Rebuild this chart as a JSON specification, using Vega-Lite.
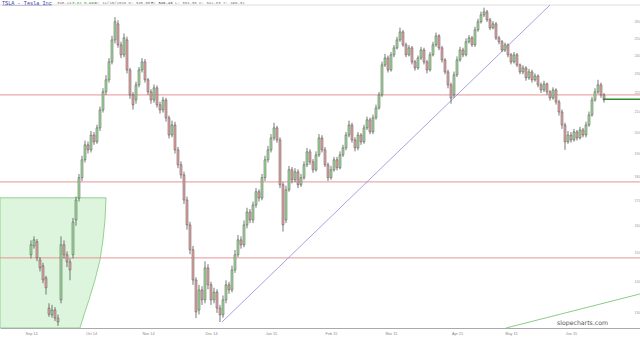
{
  "$schema": "https://vega.github.io/schema/vega-lite/v6.json",
  "width": 640,
  "height": 323,
  "autosize": "none",
  "padding": {"left": 0, "top": 5, "right": 0, "bottom": 12},
  "background": "white",
  "config": {"view": {"stroke": null}, "scale": {"continuousPadding": 0}, "axis": {"grid": false, "labelFont": "Liberation Sans"}},
  "datasets": {
    "candles": [
      {"i":0,"o":149.3,"h":154.5,"l":148.0,"c":152.9},
      {"i":1,"o":152.5,"h":156.0,"l":151.5,"c":154.7},
      {"i":2,"o":154.0,"h":155.0,"l":147.0,"c":148.2},
      {"i":3,"o":147.5,"h":148.5,"l":143.5,"c":144.7},
      {"i":4,"o":145.4,"h":146.5,"l":139.5,"c":140.6},
      {"i":5,"o":141.3,"h":142.0,"l":135.8,"c":138.0},
      {"i":6,"o":131.5,"h":133.0,"l":128.8,"c":129.6},
      {"i":7,"o":129.4,"h":132.5,"l":128.5,"c":130.9},
      {"i":8,"o":130.9,"h":131.8,"l":127.5,"c":128.4},
      {"i":9,"o":128.4,"h":129.5,"l":126.0,"c":127.2},
      {"i":10,"o":134.1,"h":156.0,"l":133.0,"c":152.9},
      {"i":11,"o":152.9,"h":154.5,"l":148.0,"c":149.3},
      {"i":12,"o":149.3,"h":150.5,"l":145.0,"c":146.8},
      {"i":13,"o":146.8,"h":148.0,"l":140.5,"c":144.0},
      {"i":14,"o":149.3,"h":163.0,"l":148.0,"c":161.4},
      {"i":15,"o":162.2,"h":171.5,"l":160.0,"c":170.1},
      {"i":16,"o":170.9,"h":181.0,"l":169.5,"c":179.4},
      {"i":17,"o":179.4,"h":189.0,"l":178.0,"c":187.2},
      {"i":18,"o":187.2,"h":196.0,"l":186.0,"c":194.0},
      {"i":19,"o":194.0,"h":195.5,"l":190.0,"c":191.7},
      {"i":20,"o":191.7,"h":200.5,"l":190.5,"c":198.6},
      {"i":21,"o":198.6,"h":200.0,"l":194.0,"c":195.4},
      {"i":22,"o":195.4,"h":203.5,"l":194.5,"c":202.0},
      {"i":23,"o":202.0,"h":212.5,"l":200.5,"c":210.8},
      {"i":24,"o":210.8,"h":222.0,"l":209.5,"c":220.1},
      {"i":25,"o":220.1,"h":229.0,"l":218.5,"c":226.5},
      {"i":26,"o":226.5,"h":238.5,"l":225.0,"c":236.4},
      {"i":27,"o":236.4,"h":251.5,"l":235.0,"c":249.1},
      {"i":28,"o":249.1,"h":263.0,"l":247.0,"c":260.1},
      {"i":29,"o":258.8,"h":261.0,"l":244.5,"c":246.2},
      {"i":30,"o":246.2,"h":248.0,"l":238.5,"c":240.4},
      {"i":31,"o":240.4,"h":253.0,"l":239.0,"c":250.3},
      {"i":32,"o":249.1,"h":251.0,"l":230.0,"c":231.9},
      {"i":33,"o":231.9,"h":233.0,"l":216.5,"c":218.5},
      {"i":34,"o":218.5,"h":220.0,"l":211.0,"c":213.4},
      {"i":35,"o":215.9,"h":225.5,"l":214.0,"c":223.8},
      {"i":36,"o":223.8,"h":233.5,"l":222.5,"c":231.9},
      {"i":37,"o":231.9,"h":238.5,"l":230.5,"c":236.4},
      {"i":38,"o":236.4,"h":238.0,"l":225.0,"c":226.5},
      {"i":39,"o":226.5,"h":227.5,"l":218.5,"c":220.1},
      {"i":40,"o":220.1,"h":221.5,"l":214.0,"c":215.9},
      {"i":41,"o":215.9,"h":224.0,"l":214.5,"c":222.2},
      {"i":42,"o":222.2,"h":223.5,"l":212.0,"c":213.4},
      {"i":43,"o":213.4,"h":215.0,"l":209.0,"c":210.8},
      {"i":44,"o":210.8,"h":217.5,"l":209.5,"c":215.9},
      {"i":45,"o":215.9,"h":217.0,"l":205.0,"c":206.9},
      {"i":46,"o":206.9,"h":208.0,"l":197.0,"c":198.6},
      {"i":47,"o":198.6,"h":205.5,"l":197.5,"c":203.4},
      {"i":48,"o":203.4,"h":205.0,"l":190.0,"c":191.7},
      {"i":49,"o":191.7,"h":193.0,"l":183.5,"c":185.0},
      {"i":50,"o":185.0,"h":186.5,"l":179.0,"c":180.6},
      {"i":51,"o":180.6,"h":182.0,"l":168.5,"c":170.1},
      {"i":52,"o":170.1,"h":171.5,"l":158.5,"c":160.3},
      {"i":53,"o":160.3,"h":161.5,"l":149.5,"c":151.1},
      {"i":54,"o":151.1,"h":152.5,"l":139.0,"c":140.6},
      {"i":55,"o":140.6,"h":141.5,"l":128.4,"c":130.3},
      {"i":56,"o":130.9,"h":139.0,"l":129.5,"c":137.3},
      {"i":57,"o":137.3,"h":138.5,"l":132.5,"c":134.1},
      {"i":58,"o":134.1,"h":147.0,"l":133.0,"c":144.7},
      {"i":59,"o":144.7,"h":146.0,"l":137.5,"c":139.0},
      {"i":60,"o":139.0,"h":140.0,"l":132.5,"c":134.1},
      {"i":61,"o":134.1,"h":138.0,"l":133.0,"c":136.6},
      {"i":62,"o":136.6,"h":137.5,"l":130.0,"c":131.5},
      {"i":63,"o":131.5,"h":132.5,"l":127.2,"c":129.4},
      {"i":64,"o":129.4,"h":135.5,"l":128.5,"c":134.1},
      {"i":65,"o":134.1,"h":140.5,"l":133.0,"c":139.0},
      {"i":66,"o":139.0,"h":140.0,"l":136.0,"c":137.3},
      {"i":67,"o":137.3,"h":145.5,"l":136.5,"c":144.0},
      {"i":68,"o":144.0,"h":151.0,"l":143.0,"c":149.3},
      {"i":69,"o":149.3,"h":156.5,"l":148.5,"c":154.7},
      {"i":70,"o":154.7,"h":156.0,"l":151.5,"c":152.9},
      {"i":71,"o":152.9,"h":162.0,"l":152.0,"c":160.3},
      {"i":72,"o":160.3,"h":167.0,"l":159.0,"c":165.3},
      {"i":73,"o":165.3,"h":166.5,"l":161.0,"c":162.2},
      {"i":74,"o":162.2,"h":169.5,"l":161.0,"c":168.1},
      {"i":75,"o":168.1,"h":175.0,"l":167.0,"c":173.5},
      {"i":76,"o":173.5,"h":174.5,"l":169.5,"c":170.9},
      {"i":77,"o":170.9,"h":181.0,"l":170.0,"c":179.4},
      {"i":78,"o":179.4,"h":189.0,"l":178.0,"c":187.2},
      {"i":79,"o":187.2,"h":193.5,"l":186.0,"c":191.7},
      {"i":80,"o":191.7,"h":199.0,"l":190.5,"c":197.2},
      {"i":81,"o":197.2,"h":204.5,"l":196.0,"c":202.0},
      {"i":82,"o":202.0,"h":203.0,"l":195.0,"c":196.3},
      {"i":83,"o":196.3,"h":197.5,"l":175.0,"c":176.4},
      {"i":84,"o":176.4,"h":177.5,"l":157.8,"c":160.3},
      {"i":85,"o":162.2,"h":176.0,"l":161.0,"c":174.3},
      {"i":86,"o":174.3,"h":184.5,"l":173.5,"c":182.8},
      {"i":87,"o":182.8,"h":184.0,"l":177.0,"c":178.5},
      {"i":88,"o":178.5,"h":183.5,"l":177.5,"c":181.9},
      {"i":89,"o":181.9,"h":183.0,"l":175.0,"c":176.4},
      {"i":90,"o":176.4,"h":181.0,"l":175.5,"c":179.4},
      {"i":91,"o":179.4,"h":186.5,"l":178.5,"c":185.0},
      {"i":92,"o":185.0,"h":192.5,"l":184.0,"c":190.8},
      {"i":93,"o":190.8,"h":192.0,"l":185.0,"c":186.3},
      {"i":94,"o":186.3,"h":187.5,"l":181.5,"c":182.8},
      {"i":95,"o":182.8,"h":191.0,"l":182.0,"c":189.4},
      {"i":96,"o":189.4,"h":199.0,"l":188.5,"c":197.2},
      {"i":97,"o":197.2,"h":198.5,"l":190.5,"c":191.7},
      {"i":98,"o":191.7,"h":193.0,"l":184.0,"c":185.0},
      {"i":99,"o":185.0,"h":186.0,"l":178.0,"c":179.4},
      {"i":100,"o":179.4,"h":184.5,"l":178.5,"c":182.8},
      {"i":101,"o":182.8,"h":188.5,"l":182.0,"c":187.2},
      {"i":102,"o":187.2,"h":188.5,"l":182.5,"c":183.7},
      {"i":103,"o":183.7,"h":191.0,"l":183.0,"c":189.4},
      {"i":104,"o":189.4,"h":194.0,"l":188.5,"c":192.6},
      {"i":105,"o":192.6,"h":200.0,"l":191.5,"c":198.6},
      {"i":106,"o":198.6,"h":205.5,"l":197.5,"c":203.4},
      {"i":107,"o":203.4,"h":204.5,"l":195.0,"c":196.3},
      {"i":108,"o":196.3,"h":197.5,"l":191.0,"c":192.6},
      {"i":109,"o":192.6,"h":200.0,"l":191.5,"c":198.6},
      {"i":110,"o":198.6,"h":199.5,"l":194.0,"c":195.4},
      {"i":111,"o":195.4,"h":203.5,"l":194.5,"c":202.0},
      {"i":112,"o":202.0,"h":207.5,"l":201.0,"c":205.9},
      {"i":113,"o":205.9,"h":207.0,"l":199.0,"c":200.1},
      {"i":114,"o":200.1,"h":208.5,"l":199.0,"c":206.9},
      {"i":115,"o":206.9,"h":213.5,"l":206.0,"c":211.8},
      {"i":116,"o":211.8,"h":220.0,"l":211.0,"c":218.5},
      {"i":117,"o":218.5,"h":236.5,"l":217.5,"c":234.7},
      {"i":118,"o":234.7,"h":241.0,"l":233.5,"c":238.6},
      {"i":119,"o":238.6,"h":240.0,"l":230.5,"c":231.9},
      {"i":120,"o":231.9,"h":242.0,"l":231.0,"c":240.4},
      {"i":121,"o":240.4,"h":246.0,"l":239.0,"c":244.4},
      {"i":122,"o":244.4,"h":251.0,"l":243.5,"c":249.1},
      {"i":123,"o":249.1,"h":256.5,"l":248.0,"c":253.9},
      {"i":124,"o":253.9,"h":255.0,"l":245.0,"c":246.2},
      {"i":125,"o":246.2,"h":247.5,"l":239.0,"c":240.4},
      {"i":126,"o":240.4,"h":246.0,"l":239.5,"c":244.4},
      {"i":127,"o":244.4,"h":245.5,"l":235.0,"c":236.4},
      {"i":128,"o":236.4,"h":237.5,"l":231.5,"c":233.0},
      {"i":129,"o":233.0,"h":240.0,"l":232.0,"c":238.6},
      {"i":130,"o":238.6,"h":245.0,"l":237.5,"c":243.2},
      {"i":131,"o":243.2,"h":244.5,"l":235.0,"c":236.4},
      {"i":132,"o":236.4,"h":237.5,"l":230.0,"c":231.9},
      {"i":133,"o":231.9,"h":242.0,"l":231.0,"c":240.4},
      {"i":134,"o":240.4,"h":248.0,"l":239.5,"c":246.2},
      {"i":135,"o":246.2,"h":253.5,"l":245.0,"c":251.5},
      {"i":136,"o":251.5,"h":252.5,"l":243.0,"c":244.4},
      {"i":137,"o":244.4,"h":245.5,"l":236.0,"c":237.5},
      {"i":138,"o":237.5,"h":238.5,"l":229.5,"c":230.8},
      {"i":139,"o":230.8,"h":232.0,"l":222.0,"c":223.8},
      {"i":140,"o":223.8,"h":225.0,"l":214.0,"c":216.9},
      {"i":141,"o":218.5,"h":231.0,"l":217.0,"c":229.2},
      {"i":142,"o":229.2,"h":239.5,"l":228.0,"c":237.5},
      {"i":143,"o":237.5,"h":245.0,"l":236.5,"c":243.2},
      {"i":144,"o":243.2,"h":244.5,"l":239.0,"c":240.4},
      {"i":145,"o":240.4,"h":250.0,"l":239.5,"c":248.0},
      {"i":146,"o":248.0,"h":252.0,"l":247.0,"c":250.3},
      {"i":147,"o":250.3,"h":251.5,"l":245.0,"c":246.2},
      {"i":148,"o":246.2,"h":257.0,"l":245.0,"c":255.1},
      {"i":149,"o":255.1,"h":262.0,"l":254.0,"c":260.1},
      {"i":150,"o":260.1,"h":266.5,"l":259.0,"c":264.4},
      {"i":151,"o":264.4,"h":269.0,"l":263.0,"c":266.3},
      {"i":152,"o":266.3,"h":267.5,"l":260.0,"c":261.3},
      {"i":153,"o":261.3,"h":262.5,"l":255.0,"c":256.3},
      {"i":154,"o":256.3,"h":260.5,"l":255.5,"c":258.8},
      {"i":155,"o":258.8,"h":260.0,"l":249.0,"c":250.3},
      {"i":156,"o":250.3,"h":251.5,"l":246.5,"c":248.0},
      {"i":157,"o":248.0,"h":249.0,"l":242.0,"c":243.2},
      {"i":158,"o":243.2,"h":247.5,"l":242.0,"c":246.2},
      {"i":159,"o":246.2,"h":247.0,"l":239.0,"c":240.4},
      {"i":160,"o":240.4,"h":241.5,"l":235.0,"c":236.4},
      {"i":161,"o":236.4,"h":242.0,"l":235.5,"c":240.4},
      {"i":162,"o":240.4,"h":241.5,"l":233.5,"c":234.7},
      {"i":163,"o":234.7,"h":235.5,"l":229.5,"c":230.8},
      {"i":164,"o":230.8,"h":234.5,"l":229.5,"c":233.0},
      {"i":165,"o":233.0,"h":234.0,"l":226.0,"c":227.6},
      {"i":166,"o":227.6,"h":232.5,"l":226.5,"c":230.8},
      {"i":167,"o":230.8,"h":232.0,"l":225.0,"c":226.5},
      {"i":168,"o":226.5,"h":230.0,"l":225.5,"c":228.6},
      {"i":169,"o":228.6,"h":229.5,"l":222.5,"c":223.8},
      {"i":170,"o":223.8,"h":225.0,"l":219.5,"c":221.1},
      {"i":171,"o":221.1,"h":226.0,"l":220.0,"c":224.3},
      {"i":172,"o":224.3,"h":225.0,"l":218.5,"c":220.1},
      {"i":173,"o":220.1,"h":221.0,"l":215.5,"c":216.9},
      {"i":174,"o":216.9,"h":222.5,"l":216.0,"c":221.1},
      {"i":175,"o":221.1,"h":222.0,"l":213.5,"c":214.9},
      {"i":176,"o":214.9,"h":216.0,"l":208.0,"c":209.8},
      {"i":177,"o":209.8,"h":211.0,"l":201.5,"c":203.4},
      {"i":178,"o":203.4,"h":204.5,"l":191.7,"c":195.4},
      {"i":179,"o":195.4,"h":200.5,"l":194.5,"c":198.6},
      {"i":180,"o":198.6,"h":200.0,"l":195.0,"c":196.3},
      {"i":181,"o":196.3,"h":201.5,"l":195.5,"c":200.1},
      {"i":182,"o":200.1,"h":201.0,"l":196.0,"c":197.2},
      {"i":183,"o":197.2,"h":202.5,"l":196.5,"c":201.0},
      {"i":184,"o":201.0,"h":202.0,"l":197.5,"c":198.6},
      {"i":185,"o":198.6,"h":205.0,"l":197.5,"c":203.4},
      {"i":186,"o":203.4,"h":210.0,"l":202.5,"c":208.3},
      {"i":187,"o":208.3,"h":217.5,"l":207.5,"c":215.9},
      {"i":188,"o":215.9,"h":222.0,"l":215.0,"c":220.1},
      {"i":189,"o":220.1,"h":226.5,"l":219.0,"c":223.8},
      {"i":190,"o":223.8,"h":225.0,"l":217.0,"c":218.5},
      {"i":191,"o":218.5,"h":219.5,"l":214.5,"c":215.9}
    ]
  },
  "layer": [
    {
      "data": {"values": [
        {"p":125.4,"xi":16.33,"x0":-10.34},
        {"p":129.4,"xi":17.67,"x0":-10.34},
        {"p":134.1,"xi":19.33,"x0":-10.34},
        {"p":140.6,"xi":21.33,"x0":-10.34},
        {"p":147.5,"xi":23.0,"x0":-10.34},
        {"p":154.7,"xi":24.0,"x0":-10.34},
        {"p":162.2,"xi":24.67,"x0":-10.34},
        {"p":171.0,"xi":25.0,"x0":-10.34}
      ]},
      "mark": {"type": "area", "orient": "horizontal", "fill": "#dcf5dc", "stroke": "#7cc87c", "strokeWidth": 0.8, "clip": true},
      "encoding": {
        "y": {"field": "p", "type": "quantitative", "scale": {"type": "log", "domain": [125.4, 270.7], "nice": false, "zero": false, "padding": 0}, "title": null,
              "axis": {"orient": "right", "offset": -6, "values": [130,140,150,160,170,180,190,200,210,220,230,240,250,260], "format": "d", "domain": false, "ticks": false, "labelPadding": 0, "labelAlign": "left", "labelFontSize": 3.8, "labelColor": "#999999", "labelBaseline": "middle"}},
        "x": {"field": "xi", "type": "quantitative", "scale": {"domain": [-10.333, 203], "nice": false, "zero": false, "padding": 0}, "title": null,
              "axis": {"orient": "bottom", "values": [0,20,39,60,80,100,120,142,160,180], "labelExpr": "['Sep 14','Oct 14','Nov 14','Dec 14','Jan 15','Feb 15','Mar 15','Apr 15','May 15','Jun 15'][indexof([0,20,39,60,80,100,120,142,160,180], datum.value)]", "domainColor": "#aaaaaa", "domainWidth": 1, "ticks": false, "labelPadding": 3, "labelFontSize": 3.8, "labelColor": "#888888", "labelFlush": false}},
        "x2": {"field": "x0"}
      }
    },
    {
      "data": {"values": [{"p": 218.5}, {"p": 177.6}, {"p": 148.2}]},
      "mark": {"type": "rule", "color": "#e89494", "strokeWidth": 1},
      "encoding": {"y": {"field": "p", "type": "quantitative", "title": null}}
    },
    {
      "data": {"values": [{"p": 270.7}]},
      "mark": {"type": "rule", "color": "#dddddd", "strokeWidth": 1},
      "encoding": {"y": {"field": "p", "type": "quantitative", "title": null}}
    },
    {
      "data": {"values": [{"i": 63.67, "p": 127.2}, {"i": 173, "p": 270.7}]},
      "mark": {"type": "line", "color": "#8c8ce0", "strokeWidth": 0.8, "clip": true},
      "encoding": {"x": {"field": "i", "type": "quantitative", "title": null}, "y": {"field": "p", "type": "quantitative", "title": null}}
    },
    {
      "data": {"values": [{"i": 158.33, "p": 125.4}, {"i": 203, "p": 136.0}]},
      "mark": {"type": "line", "color": "#6cbf6c", "strokeWidth": 0.8, "clip": true},
      "encoding": {"x": {"field": "i", "type": "quantitative", "title": null}, "y": {"field": "p", "type": "quantitative", "title": null}}
    },
    {
      "data": {"name": "candles"},
      "mark": {"type": "rule", "color": "#555555", "strokeWidth": 0.8},
      "encoding": {
        "x": {"field": "i", "type": "quantitative", "title": null},
        "y": {"field": "l", "type": "quantitative", "title": null},
        "y2": {"field": "h"}
      }
    },
    {
      "data": {"name": "candles"},
      "mark": {"type": "bar", "size": 2, "stroke": "#555555", "strokeWidth": 0.5},
      "encoding": {
        "x": {"field": "i", "type": "quantitative", "title": null},
        "y": {"field": "o", "type": "quantitative", "title": null},
        "y2": {"field": "c"},
        "fill": {"condition": {"test": "datum.c >= datum.o", "value": "#9fe09a"}, "value": "#eaa6a6"}
      }
    },
    {
      "data": {"values": [{"i": 190.67, "p": 216.2}, {"i": 203, "p": 216.2}]},
      "mark": {"type": "line", "color": "#2e8b2e", "strokeWidth": 1.5},
      "encoding": {"x": {"field": "i", "type": "quantitative", "title": null}, "y": {"field": "p", "type": "quantitative", "title": null}}
    },
    {
      "data": {"values": [
        {"t": "TSLA - Tesla Inc", "i": -9.67, "p": 272.0, "c": "#3a3aaa", "s": 5.2, "w": "normal"},
        {"t": "________________", "i": -9.67, "p": 272.0, "c": "#3a3aaa", "s": 5.2, "w": "normal"},
        {"t": "340.24", "i": 8.67, "p": 272.0, "c": "#777777", "s": 4, "w": "normal"},
        {"t": "3.82 0.99%", "i": 13.67, "p": 272.0, "c": "#3c9a3c", "s": 4, "w": "normal"},
        {"t": "D: 11/10/2016 O: 345.00", "i": 21.33, "p": 272.0, "c": "#777777", "s": 4, "w": "normal"},
        {"t": "H: 346.48", "i": 40.0, "p": 272.0, "c": "#333333", "s": 4, "w": "bold"},
        {"t": "L: 334.30 C: 342.83 T: 496.32", "i": 48.0, "p": 272.0, "c": "#777777", "s": 4, "w": "normal"}
      ]},
      "mark": {"type": "text", "align": "left", "baseline": "middle", "font": "Liberation Mono"},
      "encoding": {
        "x": {"field": "i", "type": "quantitative", "title": null},
        "y": {"field": "p", "type": "quantitative", "title": null},
        "text": {"field": "t"},
        "color": {"field": "c", "type": "nominal", "scale": null},
        "size": {"field": "s", "type": "quantitative", "scale": null},
        "fontWeight": {"field": "w", "type": "nominal", "scale": null}
      }
    },
    {
      "data": {"values": [{"t": "slopecharts.com", "i": 192.33, "p": 126.0}]},
      "mark": {"type": "text", "align": "right", "baseline": "bottom", "font": "DejaVu Sans", "fontSize": 6.2, "color": "#555555"},
      "encoding": {
        "x": {"field": "i", "type": "quantitative", "title": null},
        "y": {"field": "p", "type": "quantitative", "title": null},
        "text": {"field": "t"}
      }
    }
  ]
}
